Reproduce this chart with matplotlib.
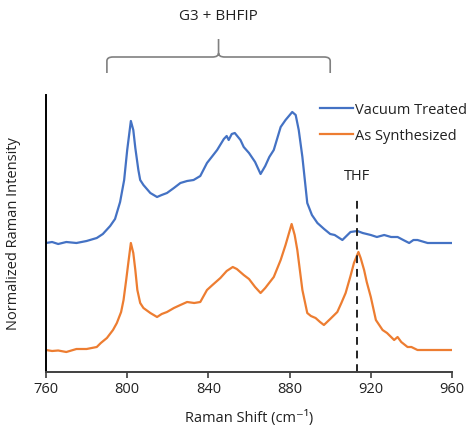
import matplotlib.pyplot as plt
from matplotlib.path import Path
from matplotlib.patches import PathPatch

# Raman shift (cm-1) and intensity (arbitrary, offset)
vac_x = [760, 763, 766, 770, 775, 780, 785, 788, 791.6, 794, 796.5, 798.5, 800, 801.8, 803, 804,
         805.5, 806.4, 808, 811.4, 814.7, 817, 819.6, 823, 826.2, 829.5, 832.7, 836, 839.3, 842,
         844.3, 847.6, 849, 850, 851.5, 853, 855.8, 857.4, 860, 863, 865.7, 868, 870, 872.2, 875.6,
         878, 881.3, 883, 884.5, 886.3, 888.7, 891, 893.7, 897, 900, 902.2, 906, 908, 910, 913.4,
         916, 920, 923, 926.6, 930, 933.2, 936, 938.9, 941, 943, 948, 960]
vac_y = [129, 130, 128, 130, 129, 131, 134, 138, 146, 153, 170, 192, 222, 251, 242, 224,
         202, 192, 187, 179, 175, 177, 179, 184, 189, 191, 192, 196, 209, 216,
         222, 233, 236, 232, 238, 239, 232, 225, 219, 210, 198, 206, 215, 222, 245,
         252, 260, 257, 242, 215, 169, 157, 149, 143, 138, 137, 132, 136, 140, 141,
         139, 137, 135, 137, 135, 135, 132, 129, 132, 132, 129, 129]

syn_x = [760, 763, 766, 770, 775, 780, 785, 787, 790, 793, 794.9, 797, 798.2, 799.5, 800.6, 801.8,
         803, 804, 805, 806.4, 808, 811.4, 814.7, 817, 819.6, 823, 826.2, 829.5, 833, 836, 839.3,
         842, 845.9, 849, 852, 854, 857.4, 860, 863, 865.7, 868, 872.2, 875.6, 878, 881, 882.5,
         883.8, 886.3, 888.7, 890.5, 892.8, 895, 896.9, 900, 903.5, 905.5, 907.6, 910, 911.7, 913.9,
         915, 916.7, 918, 920, 922.5, 925.8, 928, 931.5, 933.2, 935, 938.1, 940, 943, 960]
syn_y = [22, 21, 21.5, 20, 23, 23, 25, 29, 34, 42, 49, 60, 72, 92, 110, 129,
         119, 102, 82, 69, 64, 59, 55, 58, 60, 64, 67, 70, 69, 70, 82,
         87, 94, 101, 105, 103, 97, 93, 85, 79, 84, 95, 112, 127, 148, 137,
         122, 82, 59, 56, 54, 50, 47, 53, 60, 69, 79, 96, 109, 120,
         114, 102, 90, 75, 52, 42, 39, 32, 35, 30, 25, 25, 22, 22]

thf_x = 913.4
brace_x = (790, 900)
xticks = [760, 800, 840, 880, 920, 960]

plt.rcParams['font.family'] = ['Open Sans', 'DejaVu Sans']
plt.rcParams['font.size'] = 10.5

fig = plt.figure(figsize=(4.71, 4.30), dpi=100)
ax = fig.add_axes([46/471, 1-372/430, 406/471, 277/430])

ax.plot(vac_x, vac_y, color='#4472C4', lw=1.6, label='Vacuum Treated')
ax.plot(syn_x, syn_y, color='#ED7D31', lw=1.6, label='As Synthesized')
ax.plot([thf_x, thf_x], [0, 174], color='#222222', lw=1.4, ls=(0, (4, 3)))
ax.text(thf_x, 196, 'THF', ha='center', va='center', color='#222222')

ax.set_xlim(760, 960)
ax.set_ylim(0, 277)
ax.set_xticks(xticks)
ax.set_yticks([])
ax.tick_params(axis='x', direction='out', length=4, width=1.2, color='#404040', labelcolor='#222222')
for s in ['top', 'right']:
    ax.spines[s].set_visible(False)
ax.spines['left'].set_color('black')
ax.spines['left'].set_linewidth(1.4)
ax.spines['bottom'].set_color('#404040')
ax.spines['bottom'].set_linewidth(1.4)

ax.set_xlabel('Raman Shift (cm\u207b\u00b9)', color='#222222', labelpad=9)
ax.set_ylabel('Normalized Raman Intensity', color='#222222', labelpad=18)

leg = ax.legend(loc='upper right', bbox_to_anchor=(1.07, 1.02), frameon=False,
                handlelength=2.3, handletextpad=0.15, labelspacing=0.75)
for t in leg.get_texts():
    t.set_color('#222222')

# curly brace above the plot
x0, x1 = brace_x
xm = (x0 + x1) / 2
yb, yl, yt, r = 299, 315, 333, 3
verts = [(x0, yb), (x0, yl - 4), (x0, yl), (x0 + r, yl), (xm - r, yl), (xm, yl), (xm, yl + 4),
         (xm, yt), (xm, yl + 4), (xm, yl), (xm + r, yl), (x1 - r, yl), (x1, yl), (x1, yl - 4), (x1, yb)]
codes = [Path.MOVETO, Path.LINETO, Path.CURVE3, Path.CURVE3, Path.LINETO, Path.CURVE3, Path.CURVE3,
         Path.LINETO, Path.MOVETO, Path.CURVE3, Path.CURVE3, Path.LINETO, Path.CURVE3, Path.CURVE3, Path.LINETO]
ax.add_patch(PathPatch(Path(verts, codes), fill=False, edgecolor='#808080', lw=1.2, clip_on=False))
ax.text(xm, 355, 'G3 + BHFIP', ha='center', va='center', color='#222222', fontsize=11, clip_on=False)

fig.savefig('out.png', dpi=100)
